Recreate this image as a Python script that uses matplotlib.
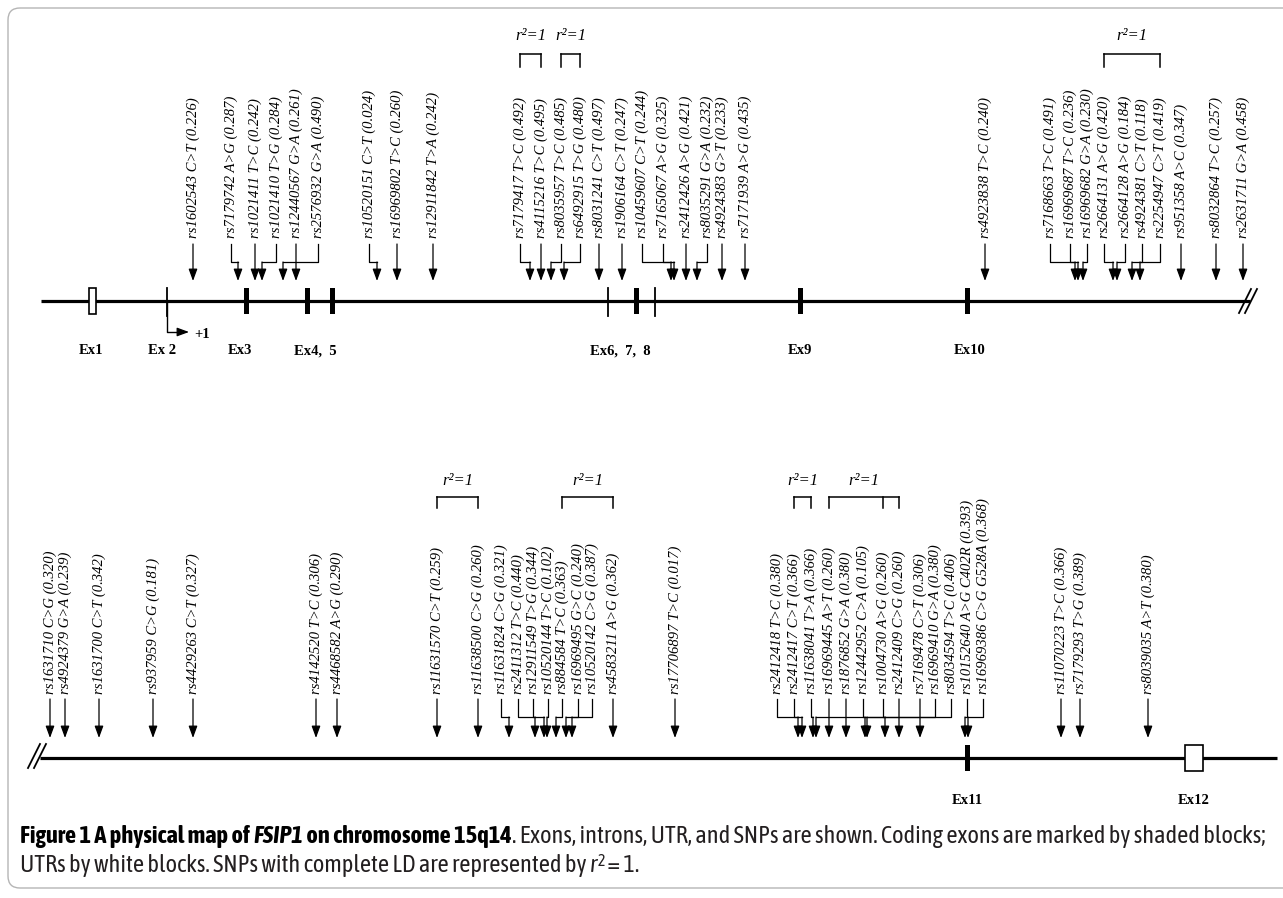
import matplotlib
matplotlib.use("Agg")
import matplotlib.pyplot as plt
from matplotlib.patches import Rectangle, FancyBboxPatch
from matplotlib import font_manager

# ---- data: SNP name, where its label sits, where its arrow lands ----
top_snps = [
    "rs1602543 C>T (0.226)", "rs7179742 A>G (0.287)", "rs1021411 T>C (0.242)",
    "rs1021410 T>G (0.284)", "rs12440567 G>A (0.261)", "rs2576932 G>A (0.490)",
    "rs10520151 C>T (0.024)", "rs16969802 T>C (0.260)", "rs12911842 T>A (0.242)",
    "rs7179417 T>C (0.492)", "rs4115216 T>C (0.495)", "rs8035957 T>C (0.485)",
    "rs6492915 T>G (0.480)", "rs8031241 C>T (0.497)", "rs1906164 C>T (0.247)",
    "rs10459607 C>T (0.244)", "rs7165067 A>G (0.325)", "rs2412426 A>G (0.421)",
    "rs8035291 G>A (0.232)", "rs4924383 G>T (0.233)", "rs7171939 A>G (0.435)",
    "rs4923838 T>C (0.240)", "rs7168663 T>C (0.491)", "rs16969687 T>C (0.236)",
    "rs16969682 G>A (0.230)", "rs2664131 A>G (0.420)", "rs2664128 A>G (0.184)",
    "rs4924381 C>T (0.118)", "rs2254947 C>T (0.419)", "rs951358 A>C (0.347)",
    "rs8032864 T>C (0.257)", "rs2631711 G>A (0.458)",
]
top_label_x = [193, 231, 255, 276, 296, 318, 369, 397, 433, 520, 541, 561, 580,
               599, 622, 642, 663, 686, 707, 722, 745, 985, 1050, 1070, 1087,
               1104, 1125, 1142, 1160, 1181, 1216, 1243]
top_target_x = [193, 238, 255, 262, 296, 283, 377, 397, 433, 530, 541, 551, 564,
                599, 622, 671, 674, 686, 697, 722, 745, 985, 1075, 1078, 1083,
                1113, 1117, 1140, 1132, 1181, 1216, 1243]
top_ld = [[9, 10], [11, 12], [25, 28]]

bot_snps = [
    "rs1631710 C>G (0.320)", "rs4924379 G>A (0.239)", "rs1631700 C>T (0.342)",
    "rs937959 C>G (0.181)", "rs4429263 C>T (0.327)", "rs4142520 T>C (0.306)",
    "rs4468582 A>G (0.290)", "rs11631570 C>T (0.259)", "rs11638500 C>G (0.260)",
    "rs11631824 C>G (0.321)", "rs2411312 T>C (0.440)", "rs12911549 T>G (0.344)",
    "rs10520144 T>C (0.102)", "rs884584 T>C (0.363)", "rs16969495 G>C (0.240)",
    "rs10520142 C>G (0.387)", "rs4583211 A>G (0.362)", "rs17706897 T>C (0.017)",
    "rs2412418 T>C (0.380)", "rs2412417 C>T (0.366)", "rs11638041 T>A (0.366)",
    "rs16969445 A>T (0.260)", "rs1876852 G>A (0.380)", "rs12442952 C>A (0.105)",
    "rs1004730 A>G (0.260)", "rs2412409 C>G (0.260)", "rs7169478 C>T (0.306)",
    "rs16969410 G>A (0.380)", "rs8034594 T>C (0.406)",
    "rs10152640 A>G C402R (0.393)", "rs16969386 C>G G528A (0.368)",
    "rs11070223 T>C (0.366)", "rs7179293 T>G (0.389)", "rs8039035 A>T (0.380)",
]
bot_label_x = [50, 65, 99, 153, 193, 316, 337, 437, 478, 501, 518, 533, 548, 562,
               578, 592, 613, 675, 777, 794, 811, 829, 846, 863, 883, 899, 920,
               935, 951, 967, 983, 1061, 1080, 1148]
bot_target_x = [50, 65, 99, 153, 193, 316, 337, 437, 478, 509, 544, 535, 547, 556,
                566, 572, 613, 675, 798, 802, 813, 829, 846, 865, 885, 899, 920,
                867, 816, 965, 968, 1061, 1080, 1148]
bot_ld = [[7, 8], [13, 16], [19, 20], [21, 24, 25]]

# exons: position on the map and kind of block
top_exon_x = [92, 167, 246, 307, 332, 608, 636, 655, 800, 967]
top_exon_kind = ["utr", "thin", "bar", "bar", "bar", "thin", "bar", "thin", "bar", "bar"]
top_exon_labels = ["Ex1", "Ex 2", "Ex3", "Ex4,  5", "Ex6,  7,  8", "Ex9", "Ex10"]
top_exon_label_x = [91, 162, 240, 315, 620, 800, 970]
bot_exon_x = [967, 1194]
bot_exon_kind = ["bar", "utr"]
bot_exon_labels = ["Ex11", "Ex12"]
bot_exon_label_x = [967, 1194]

W, H = 1283, 898
fig = plt.figure(figsize=(W / 100, H / 100), dpi=100)
ax = fig.add_axes([0, 0, 1, 1])
ax.set_xlim(0, W)
ax.set_ylim(H, 0)
ax.axis("off")

SERIF = "Liberation Serif"
AP = dict(arrowstyle="-|>,head_length=0.6,head_width=0.22", mutation_scale=12,
          lw=0.9, color="k", shrinkA=0, shrinkB=0)


def draw_row(line_y, x0, x1, exon_x, exon_kind, ex_labels, ex_label_x):
    ax.plot([x0, x1], [line_y, line_y], color="k", lw=2.3, solid_capstyle="butt", zorder=2)
    for x, k in zip(exon_x, exon_kind):
        if k == "utr":
            w = 7 if x < 500 else 18
            ax.add_patch(Rectangle((x - w / 2, line_y - 13), w, 26, fc="white",
                                   ec="k", lw=1.2, zorder=3))
        elif k == "bar":
            ax.add_patch(Rectangle((x - 2.5, line_y - 13), 5, 26, fc="k", ec="none", zorder=3))
        else:
            ax.plot([x, x], [line_y - 13, line_y + 15], color="k", lw=1.3, zorder=3)
    for s, x in zip(ex_labels, ex_label_x):
        ax.text(x, line_y + 50, s, ha="center", va="center", fontsize=10.5,
                fontweight="bold", family=SERIF)


def draw_snps(names, lx, tx, y_text, y0, ye, y1, ld, ld_top, ld_leg, ld_text):
    for s, a, b in zip(names, lx, tx):
        ax.text(a, y_text, s, rotation=90, ha="center", va="bottom", fontsize=10.5,
                style="italic", family=SERIF)
        if a == b:
            ax.annotate("", xy=(b, y1), xytext=(a, y0), arrowprops=AP)
        else:
            ax.plot([a, a, b], [y0, ye, ye], color="k", lw=0.9)
            ax.annotate("", xy=(b, y1), xytext=(b, ye), arrowprops=AP)
    for grp in ld:
        xs = [lx[i] for i in grp]
        ax.plot([min(xs), max(xs)], [ld_top, ld_top], color="k", lw=1.1)
        for x in xs:
            ax.plot([x, x], [ld_top, ld_leg], color="k", lw=1.1)
        ax.text((min(xs) + max(xs)) / 2, ld_text, "r\u00b2=1", ha="center", va="center",
                fontsize=12, style="italic", family=SERIF)


def slashes(xc, yc):
    for dx in (-3, 3):
        ax.plot([xc + dx - 6, xc + dx + 6], [yc + 12, yc - 12], color="k", lw=1.3)


# top row
draw_row(301, 41, 1250, top_exon_x, top_exon_kind, top_exon_labels, top_exon_label_x)
slashes(1248, 301)
ax.plot([167, 167, 180], [301, 332, 332], color="k", lw=1.0)
ax.annotate("", xy=(189, 332), xytext=(178, 332), arrowprops=AP)
ax.text(194, 334, "+1", ha="left", va="center", fontsize=10.5, fontweight="bold", family=SERIF)
draw_snps(top_snps, top_label_x, top_target_x, 238, 244, 262, 281, top_ld, 54, 67, 36)

# bottom row
draw_row(758, 40, 1277, bot_exon_x, bot_exon_kind, [], [])
for s, x in zip(bot_exon_labels, bot_exon_label_x):
    ax.text(x, 800, s, ha="center", va="center", fontsize=10.5, fontweight="bold", family=SERIF)
slashes(37, 756)
draw_snps(bot_snps, bot_label_x, bot_target_x, 694, 699, 717, 738, bot_ld, 497, 508, 481)

# frame
ax.add_patch(FancyBboxPatch((8, 8), 1300, 880, boxstyle="round,pad=0,rounding_size=12",
                            fc="none", ec="#b5b5b5", lw=1.0))

# caption: a condensed humanist sans if present, else Open Sans
names = {f.name for f in font_manager.fontManager.ttflist}
cap_font = "Open Sans"
for cand in ["Asap Condensed", "Barlow Semi Condensed", "Liberation Sans Narrow"]:
    if cand in names:
        cap_font = cand
        break

fig.canvas.draw()
rend = fig.canvas.get_renderer()


def draw_pieces(pieces, x, y, size):
    made = []
    for s, kw in pieces:
        t = ax.text(x, y, s, ha="left", va="baseline", fontsize=size * kw.get("scale", 1),
                    family=cap_font, fontweight=kw.get("weight", "normal"),
                    style=kw.get("style", "normal"), color=kw.get("color", "#231f20"))
        if "raise" in kw:
            t.set_y(y - kw["raise"])
        made.append(t)
        x += t.get_window_extent(rend).width
    return made, x


line1 = [("Figure 1 A physical map of ", {"weight": "bold", "color": "k"}),
         ("FSIP1", {"weight": "bold", "style": "italic", "color": "k"}),
         (" on chromosome 15q14", {"weight": "bold", "color": "k"}),
         (". Exons, introns, UTR, and SNPs are shown. Coding exons are marked by shaded blocks;", {})]
line2 = [("UTRs by white blocks. SNPs with complete LD are represented by ", {}),
         ("r", {"style": "italic"}),
         ("2", {"scale": 0.65, "raise": 6}),
         (" = 1.", {})]

size = 13
made, xe = draw_pieces(line1, 20, 843, size)
size = size * (1262 - 20) / (xe - 20)
for t in made:
    t.remove()
draw_pieces(line1, 20, 843, size)
draw_pieces(line2, 20, 872, size)

fig.savefig("out.png", dpi=100)
